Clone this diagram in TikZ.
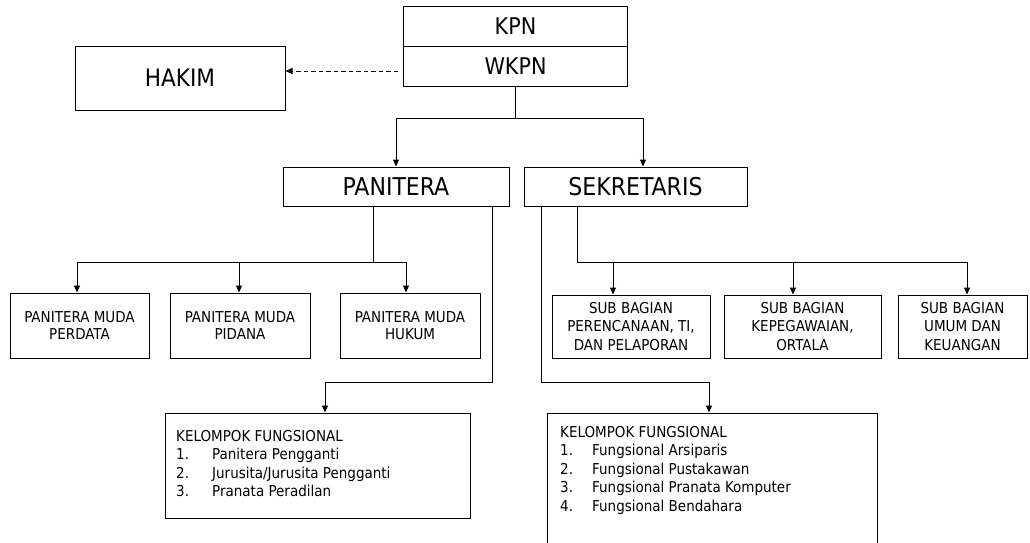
\documentclass[tikz,border=0pt]{standalone}
\usepackage{fontspec}
\setmainfont{DejaVu Sans Condensed}
\usetikzlibrary{arrows.meta}
\begin{document}
\begin{tikzpicture}[x=1pt,y=-1pt,
  box/.style={draw, line width=1pt, inner sep=0pt, anchor=center, align=center},
  big/.style={font=\fontsize{23}{27}\selectfont},
  mid/.style={font=\fontsize{24.5}{28}\selectfont},
  small/.style={font=\fontsize{15}{17}\selectfont},
  smallsb/.style={font=\fontsize{15}{18.5}\selectfont},
  listtext/.style={font=\fontsize{15}{18.5}\selectfont, align=left, inner sep=0pt, anchor=north west},
  conn/.style={line width=1pt},
  tip/.style={-{Triangle[length=7pt,width=6pt]}}]
\useasboundingbox (0,0) rectangle (1030,542);
\clip (0,0) rectangle (1030,542);

% top level
\node[box, big, minimum width=224pt, minimum height=40pt] (kpn) at (515.5,26) {KPN};
\node[box, big, minimum width=224pt, minimum height=40pt] (wkpn) at (515.5,66) {WKPN};
\node[box, font=\fontsize{24}{28}\selectfont, minimum width=210pt, minimum height=64pt] (hakim) at (180,78) {HAKIM};

% second level
\node[box, mid, minimum width=226pt, minimum height=39pt] (pan) at (396,186.5) {PANITERA};
\node[box, mid, minimum width=223pt, minimum height=39pt] (sek) at (635.5,186.5) {SEKRETARIS};

% panitera muda
\node[box, small, minimum width=139pt, minimum height=65pt] (pm1) at (79.5,325.5) {PANITERA MUDA\\PERDATA};
\node[box, small, minimum width=140pt, minimum height=65pt] (pm2) at (240,325.5) {PANITERA MUDA\\PIDANA};
\node[box, small, minimum width=140pt, minimum height=65pt] (pm3) at (410,325.5) {PANITERA MUDA\\HUKUM};

% sub bagian
\node[box, smallsb, minimum width=158pt, minimum height=63pt] (sb1) at (631,326.5) {SUB BAGIAN\\PERENCANAAN, TI,\\DAN PELAPORAN};
\node[box, smallsb, minimum width=157pt, minimum height=63pt] (sb2) at (802.5,326.5) {SUB BAGIAN\\KEPEGAWAIAN,\\ORTALA};
\node[box, smallsb, minimum width=129pt, minimum height=63pt] (sb3) at (962.5,326.5) {SUB BAGIAN\\UMUM DAN\\KEUANGAN};

% functional groups
\node[box, minimum width=305pt, minimum height=105pt] (kf1) at (317.5,465.5) {};
\node[listtext] (kf1t) at (176,430) {KELOMPOK FUNGSIONAL\\
  \makebox[36pt][l]{1.}Panitera Pengganti\\
  \makebox[36pt][l]{2.}Jurusita/Jurusita Pengganti\\
  \makebox[36pt][l]{3.}Pranata Peradilan};
\node[box, minimum width=330pt, minimum height=150pt] (kf2) at (712,488) {};
\node[listtext] (kf2t) at (560,426) {KELOMPOK FUNGSIONAL\\
  \makebox[32pt][l]{1.}Fungsional Arsiparis\\
  \makebox[32pt][l]{2.}Fungsional Pustakawan\\
  \makebox[32pt][l]{3.}Fungsional Pranata Komputer\\
  \makebox[32pt][l]{4.}Fungsional Bendahara};

% connectors
\coordinate (d0) at (398,71);
\draw[conn, tip, dash pattern=on 4.5pt off 3pt] (d0) -- (hakim.east |- d0);

\coordinate (j1) at (515.5,118);
\draw[conn] (wkpn.south) -- (j1);
\draw[conn, tip] (j1) -| (pan.north);
\draw[conn, tip] (j1) -| ([xshift=7.5pt]sek.north);

\coordinate (pbus) at (373,262);
\draw[conn] (pan.south -| pbus) -- (pbus);
\draw[conn, tip] (pbus) -| ([xshift=-2.5pt]pm1.north);
\draw[conn, tip] (pbus) -| ([xshift=-1pt]pm2.north);
\draw[conn, tip] (pbus) -| ([xshift=-4pt]pm3.north);

\coordinate (pk) at (492,382);
\draw[conn, tip] (pan.south -| pk) -- (pk) -| ([xshift=7.5pt]kf1.north);

\coordinate (sbus) at (577,262);
\draw[conn] (sek.south -| sbus) -- (sbus);
\draw[conn, tip] (sbus) -| ([xshift=-18pt]sb1.north);
\draw[conn, tip] (sbus) -| ([xshift=-9.5pt]sb2.north);
\draw[conn, tip] (sbus) -| ([xshift=4.5pt]sb3.north);

\coordinate (sk) at (541,382);
\draw[conn, tip] (sek.south -| sk) -- (sk) -| ([xshift=-3pt]kf2.north);
\end{tikzpicture}
\end{document}
